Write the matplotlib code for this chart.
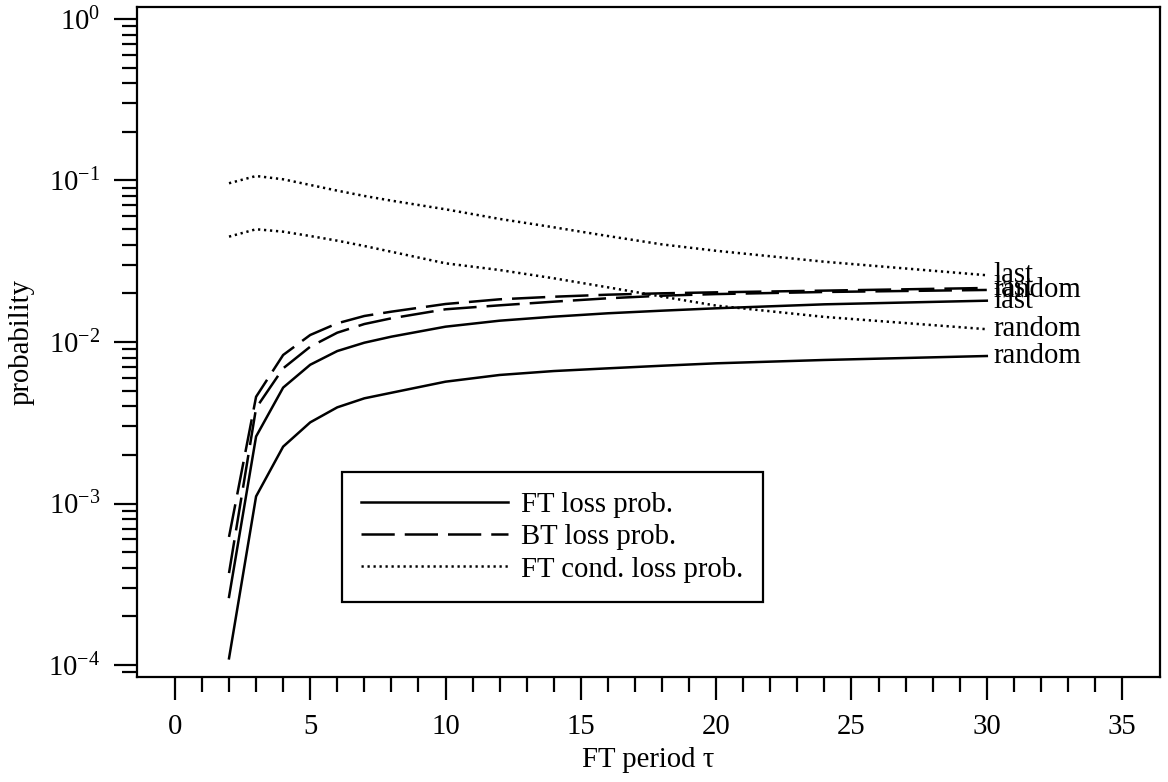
import numpy as np
import matplotlib.pyplot as plt
from matplotlib.ticker import FixedLocator, LogLocator, LogFormatterMathtext, NullFormatter

plt.rcParams['font.family'] = ['Liberation Serif', 'DejaVu Serif']
plt.rcParams['mathtext.fontset'] = 'custom'
plt.rcParams['mathtext.rm'] = 'Liberation Serif'
plt.rcParams['mathtext.it'] = 'Liberation Serif:italic'
FS = 20.7

# FT period tau
tau = [2, 3, 4, 5, 6, 7, 8, 10, 12, 14, 16, 18, 20, 24, 30]

# forward transfer loss probability
ft_last = [2.64e-4, 2.60e-3, 5.22e-3, 7.23e-3, 8.79e-3, 9.90e-3, 0.01079, 0.01244,
           0.01355, 0.01435, 0.01506, 0.01563, 0.01617, 0.01711, 0.01802]
ft_random = [1.10e-4, 1.107e-3, 2.25e-3, 3.18e-3, 3.94e-3, 4.48e-3, 4.85e-3, 5.68e-3,
             6.25e-3, 6.61e-3, 6.87e-3, 7.13e-3, 7.38e-3, 7.74e-3, 8.19e-3]
# backward transfer loss probability
bt_last = [6.21e-4, 4.58e-3, 8.31e-3, 0.01105, 0.01305, 0.01449, 0.01541, 0.01719,
           0.01838, 0.01907, 0.01963, 0.02002, 0.0203, 0.0208, 0.0216]
bt_random = [3.71e-4, 3.90e-3, 6.87e-3, 9.35e-3, 0.01142, 0.01292, 0.01402, 0.01594,
             0.01687, 0.01777, 0.01865, 0.01935, 0.0198, 0.0204, 0.0210]
# FT conditional loss probability
cond_last = [0.0961, 0.1066, 0.1017, 0.0938, 0.0865, 0.0802, 0.0750, 0.0663,
             0.0578, 0.0513, 0.0453, 0.0402, 0.0367, 0.0314, 0.0259]
cond_random = [0.0449, 0.0499, 0.0482, 0.0453, 0.0424, 0.0393, 0.0362, 0.0307,
               0.0279, 0.0248, 0.0218, 0.0191, 0.0168, 0.0143, 0.0120]

fig = plt.figure(figsize=(11.68, 7.82), dpi=100)
ax = fig.add_axes([137/1168, 1-677/782, 1023/1168, 670/782])

lw = 1.8
dash = (0, (13.3, 4))
dot = (0, (0.9, 1.5))
ax.plot(tau, ft_last, 'k-', lw=lw, label='FT loss prob.')
ax.plot(tau, ft_random, 'k-', lw=lw)
ax.plot(tau, bt_last, 'k', ls=dash, lw=lw, label='BT loss prob.')
ax.plot(tau, bt_random, 'k', ls=dash, lw=lw)
ax.plot(tau, cond_last, 'k', ls=dot, lw=lw, label='FT cond. loss prob.')
ax.plot(tau, cond_random, 'k', ls=dot, lw=lw)

# end-of-curve labels
for series, txt in [(cond_last, 'last'), (bt_random, 'random'), (bt_last, 'last'),
                    (ft_last, 'last'), (cond_random, 'random'), (ft_random, 'random')]:
    ax.annotate(txt, (tau[-1], series[-1]), xytext=(5, 0), textcoords='offset points',
                ha='left', va='center', fontsize=FS)

ax.set_yscale('log')
ax.set_xlim(-1.4, 36.4)
ax.set_ylim(10**-4.074, 10**0.074)

ax.xaxis.set_major_locator(FixedLocator(np.arange(0, 36, 5)))
ax.xaxis.set_minor_locator(FixedLocator(np.arange(0, 36, 1)))
ax.yaxis.set_major_locator(LogLocator(base=10, numticks=10))
ax.yaxis.set_minor_locator(LogLocator(base=10, subs=np.arange(2, 10), numticks=20))
ax.yaxis.set_major_formatter(LogFormatterMathtext())
ax.yaxis.set_minor_formatter(NullFormatter())

ax.tick_params(which='both', direction='out', width=1.6, labelsize=FS, top=False, right=False)
ax.tick_params(which='major', length=16.5, pad=10)
ax.tick_params(which='minor', length=11)
for s in ax.spines.values():
    s.set_linewidth(1.6)

ax.set_xlabel('FT period τ', fontsize=FS, labelpad=5)
ax.set_ylabel('probability', fontsize=FS, labelpad=10)

leg = ax.legend(loc='upper left', bbox_to_anchor=(0.200, 0.306), borderaxespad=0,
                fontsize=FS, fancybox=False, framealpha=1, edgecolor='k',
                handlelength=5.1, handletextpad=0.45,
                labelspacing=0.22, borderpad=0.68)
leg.get_frame().set_linewidth(1.6)

fig.savefig('out.png', dpi=100)
